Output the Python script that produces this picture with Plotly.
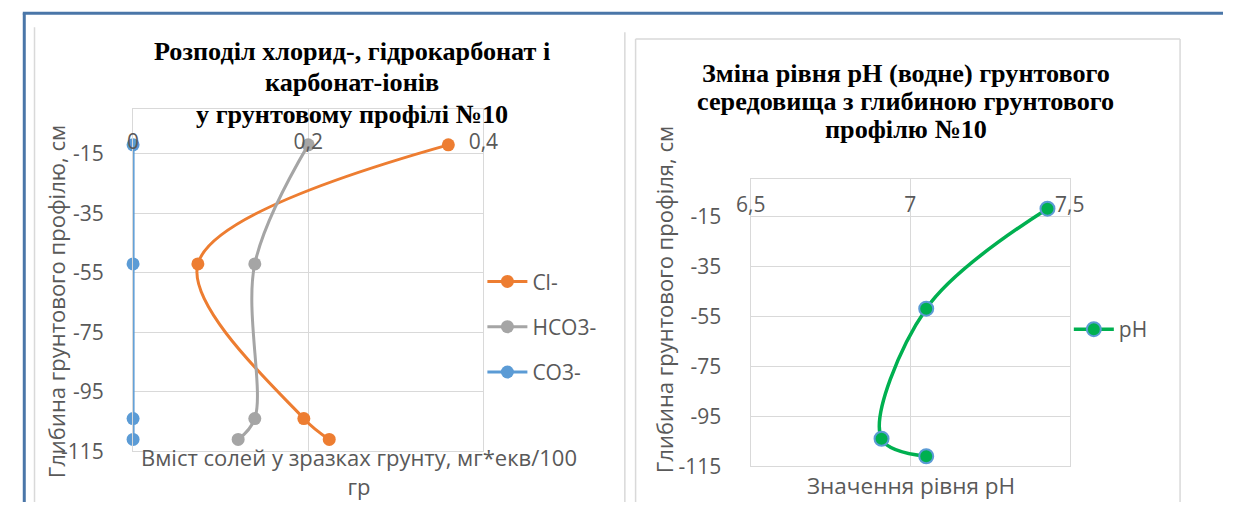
import plotly.graph_objects as go

# Sampling depths of soil profile No.10, cm (negative = below surface)
depth = [-12, -52, -104, -111]

# Salt content, mg*eq/100 g
cl = [0.36, 0.074, 0.195, 0.224]
hco3 = [0.2, 0.139, 0.139, 0.12]
co3 = [0, 0, 0, 0]

# pH (water extract)
ph = [7.43, 7.05, 6.91, 7.05]

salt_ticks = [0, 0.2, 0.4]
salt_ticklabels = ["0", "0,2", "0,4"]
ph_ticks = [6.5, 7, 7.5]
ph_ticklabels = ["6,5", "7", "7,5"]
depth_ticks = [-115, -95, -75, -55, -35, -15]
depth_ticklabels = [str(v) for v in depth_ticks]

salt_title = ["Розподіл хлорид-, гідрокарбонат і", "карбонат-іонів", "у грунтовому профілі №10"]
ph_title = ["Зміна рівня pH (водне) грунтового", "середовища з глибиною грунтового", "профілю №10"]

W, H = 1238, 515


def px(x):
    return x / W


def py(y):
    return 1 - y / H


SANS = "Open Sans"
SERIF = "Liberation Serif"
TXT = "#595959"
GRID = "#d9d9d9"

fig = go.Figure()

series = [
    ("Cl-", cl, "#ed7d31"),
    ("HCO3-", hco3, "#a5a5a5"),
    ("CO3-", co3, "#5b9bd5"),
]
for name, vals, color in series:
    fig.add_trace(go.Scatter(
        x=vals, y=depth, name=name, mode="lines+markers",
        line=dict(color=color, width=3, shape="spline", smoothing=1),
        marker=dict(color=color, size=13),
        xaxis="x", yaxis="y", legend="legend", legendgroup=name,
        cliponaxis=False,
    ))

# carrier for the top tick-label axis of the salt chart
fig.add_trace(go.Scatter(
    x=cl, y=depth, mode="markers", marker=dict(opacity=0),
    xaxis="x2", yaxis="y", showlegend=False, hoverinfo="skip",
))

fig.add_trace(go.Scatter(
    x=ph, y=depth, name="pH", mode="lines+markers",
    line=dict(color="#00b050", width=3.5, shape="spline", smoothing=1),
    marker=dict(color="#00b050", size=14, line=dict(color="#5b9bd5", width=2)),
    xaxis="x3", yaxis="y2", legend="legend2", cliponaxis=False,
))

# carrier for the top tick-label axis of the pH chart
fig.add_trace(go.Scatter(
    x=ph, y=depth, mode="markers", marker=dict(opacity=0),
    xaxis="x4", yaxis="y2", showlegend=False, hoverinfo="skip",
))

grid_axis = dict(
    showgrid=True, gridcolor=GRID, gridwidth=1.3,
    showline=True, linecolor=GRID, linewidth=1.3, mirror=True,
    zeroline=False, ticks="",
)
y_axis = dict(
    grid_axis, range=[-115, 0], tickvals=depth_ticks, ticktext=depth_ticklabels,
    tickfont=dict(family=SANS, size=21, color=TXT),
    ticks="outside", ticklen=24, tickcolor="rgba(0,0,0,0)",
)
label_axis = dict(
    anchor="free", side="top", showgrid=False, showline=False,
    zeroline=False, ticks="", tickfont=dict(family=SANS, size=21, color=TXT),
)

fig.update_layout(
    width=W, height=H,
    margin=dict(l=0, r=0, t=0, b=0),
    paper_bgcolor="white", plot_bgcolor="white",
    xaxis=dict(grid_axis, domain=[px(121), px(480)], range=[0, 0.4],
               tickvals=salt_ticks, showticklabels=False, anchor="y"),
    yaxis=dict(y_axis, domain=[py(463), py(112)], anchor="x"),
    xaxis2=dict(label_axis, overlaying="x", range=[0, 0.4],
                tickvals=salt_ticks, ticktext=salt_ticklabels,
                position=py(157.3)),
    xaxis3=dict(grid_axis, domain=[px(754), px(1081)], range=[6.5, 7.5],
                tickvals=ph_ticks, showticklabels=False, anchor="y2"),
    yaxis2=dict(y_axis, domain=[py(478.3), py(183.3)], anchor="x3"),
    xaxis4=dict(label_axis, overlaying="x3", range=[6.5, 7.5],
                tickvals=ph_ticks, ticktext=ph_ticklabels,
                position=py(221.7)),
    legend=dict(x=px(479), y=py(268), xanchor="left", yanchor="top",
                font=dict(family=SANS, size=21, color=TXT),
                bgcolor="rgba(0,0,0,0)", tracegroupgap=15, itemwidth=40),
    legend2=dict(x=px(1080), y=py(317), xanchor="left", yanchor="top",
                 font=dict(family=SANS, size=21, color=TXT),
                 bgcolor="rgba(0,0,0,0)", itemwidth=40),
    showlegend=True,
)

# chart titles, one annotation per line
for line, yc in zip(salt_title, [53, 85, 117]):
    fig.add_annotation(
        text=f"<b>{line}</b>", xref="paper", yref="paper", x=px(345), y=py(yc),
        xanchor="center", yanchor="middle", showarrow=False,
        font=dict(family=SERIF, size=26.2, color="black"),
    )
for line, yc in zip(ph_title, [75, 104, 133]):
    fig.add_annotation(
        text=f"<b>{line}</b>", xref="paper", yref="paper", x=px(913), y=py(yc),
        xanchor="center", yanchor="middle", showarrow=False,
        font=dict(family=SERIF, size=26.2, color="black"),
    )

# axis titles (kept inside the figure area)
fig.add_annotation(
    text="Глибина грунтового профілю, см", textangle=-90,
    xref="paper", yref="paper", x=px(42), y=py(309), xanchor="center", yanchor="middle",
    showarrow=False, font=dict(family=SANS, size=22, color=TXT),
)
fig.add_annotation(
    text="Глибина грунтового профіля, см", textangle=-90,
    xref="paper", yref="paper", x=px(665), y=py(307), xanchor="center", yanchor="middle",
    showarrow=False, font=dict(family=SANS, size=22, color=TXT),
)
fig.add_annotation(
    text="Вміст солей у зразках грунту, мг*екв/100<br>гр",
    xref="paper", yref="paper", x=px(353), y=0, xanchor="center", yanchor="bottom",
    showarrow=False, font=dict(family=SANS, size=22, color=TXT), borderpad=0,
)
fig.add_annotation(
    text="Значення рівня pH",
    xref="paper", yref="paper", x=px(918), y=0, xanchor="center", yanchor="bottom",
    showarrow=False, font=dict(family=SANS, size=22.5, color=TXT), borderpad=0,
)

# outer frames
frame_blue = dict(color="#4a76a8", width=3)
frame_gray = dict(color=GRID, width=1.5)
lines = [
    (8, 13.5, W, 13.5, frame_blue),
    (9.5, 13.5, 9.5, H, frame_blue),
    (20, 28, 20, H, frame_gray),
    (625, 33, 625, H, frame_gray),
    (636, 40, 1194, 40, frame_gray),
    (636, 40, 636, H, frame_gray),
    (1194, 40, 1194, H, frame_gray),
]
for x0, y0, x1, y1, ln in lines:
    fig.add_shape(type="line", xref="paper", yref="paper",
                  x0=px(x0), y0=py(y0), x1=px(x1), y1=py(y1), line=ln, layer="below")

fig.write_html("out.html")
